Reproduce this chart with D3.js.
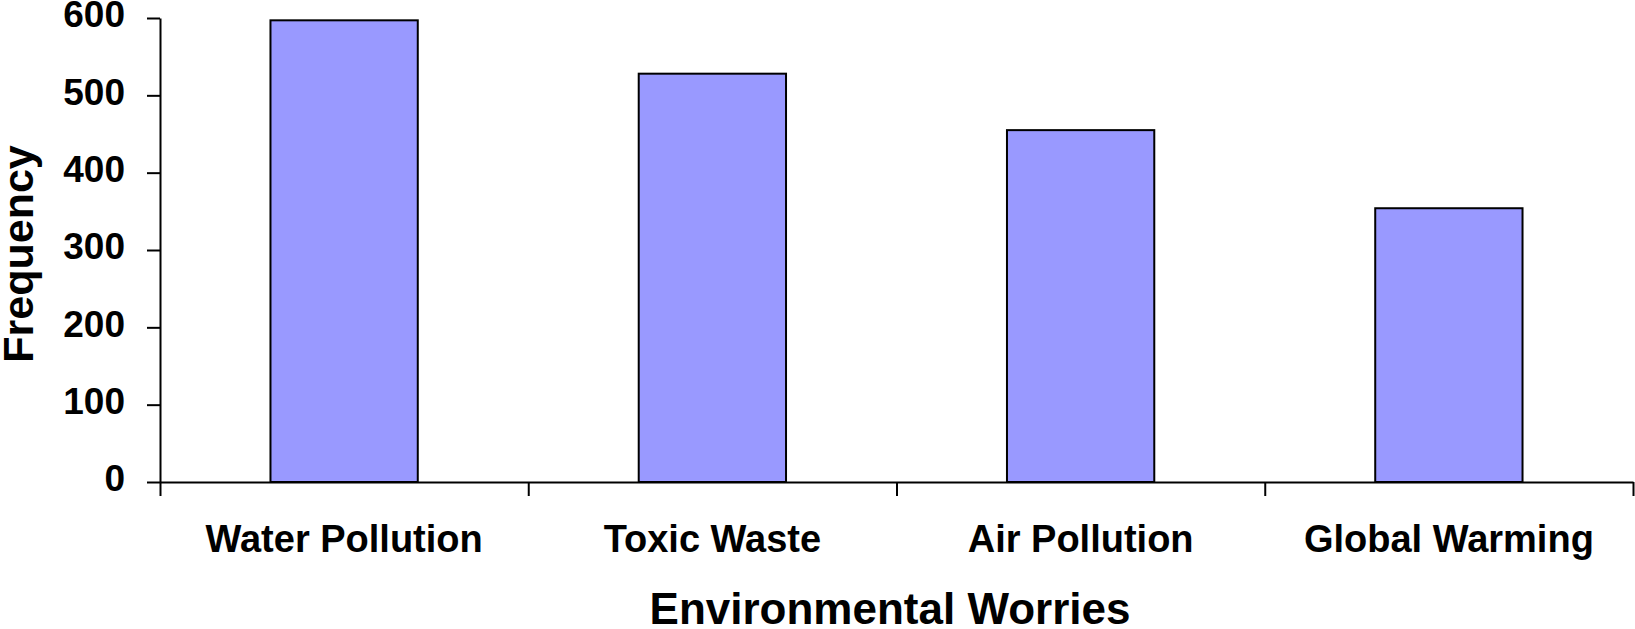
<!DOCTYPE html>
<meta charset="UTF-8">
<style>
    body { margin: 0; background: #fff; }
    text { font-family: "Liberation Sans", Arial, sans-serif; font-weight: bold; fill: #000; }
    .bar { fill: #9999ff; stroke: #000; stroke-width: 2px; }
    .axis path, .axis line { stroke: #000; stroke-width: 2px; }
</style>
<body>
<div id="chart"></div>
<script src="https://d3js.org/d3.v7.min.js"></script>
<script>

// data
var categories = ["Water Pollution", "Toxic Waste", "Air Pollution", "Global Warming"];
var frequency = [597, 528, 455, 354];
var yTicks = [0, 100, 200, 300, 400, 500, 600];
var yLabel = "Frequency";
var xLabel = "Environmental Worries";

var width = 1635, height = 629;
var plot = {left: 160, right: 1633, top: 18, bottom: 482};

var x = d3.scaleBand()
    .domain(categories)
    .range([plot.left, plot.right])
    .paddingInner(0.6)
    .paddingOuter(0.3);

var y = d3.scaleLinear()
    .domain([0, 600])
    .range([plot.bottom, plot.top]);

// boundary ticks between categories
var xEdge = d3.scaleLinear()
    .domain([0, categories.length])
    .range([plot.left, plot.right]);

var svg = d3.select("#chart").append("svg")
    .attr("width", width)
    .attr("height", height);

// bars
svg.selectAll(".bar")
    .data(categories)
    .enter().append("rect")
    .attr("class", "bar")
    .attr("x", function(d) { return x(d); })
    .attr("width", x.bandwidth())
    .attr("y", function(d, i) { return y(frequency[i]); })
    .attr("height", function(d, i) { return y(0) - y(frequency[i]); });

// y axis
var yAxis = svg.append("g")
    .attr("class", "axis")
    .attr("transform", "translate(" + plot.left + ",0)")
    .call(d3.axisLeft(y).tickValues(yTicks).tickSize(13).tickSizeOuter(0).tickPadding(22));
yAxis.selectAll("text")
    .style("font-size", "37px")
    .attr("dy", "0.24em");

// x axis tick marks at category edges
svg.append("g")
    .attr("class", "axis")
    .attr("transform", "translate(0," + plot.bottom + ")")
    .call(d3.axisBottom(xEdge).ticks(categories.length).tickSize(14).tickSizeOuter(0).tickFormat(""));

// x axis category labels
var xAxis = svg.append("g")
    .attr("class", "axis")
    .attr("transform", "translate(0," + plot.bottom + ")")
    .call(d3.axisBottom(x).tickSize(0));
xAxis.select(".domain").remove();
xAxis.selectAll("text")
    .style("font-size", "38px")
    .attr("y", 70)
    .attr("dy", 0);

// axis titles
svg.append("text")
    .attr("x", 890)
    .attr("y", 624)
    .attr("text-anchor", "middle")
    .style("font-size", "44px")
    .text(xLabel);

svg.append("text")
    .attr("transform", "translate(33," + ((plot.top + plot.bottom) / 2 + 4) + ") rotate(-90)")
    .attr("text-anchor", "middle")
    .style("font-size", "43px")
    .text(yLabel);

</script>
</body>
